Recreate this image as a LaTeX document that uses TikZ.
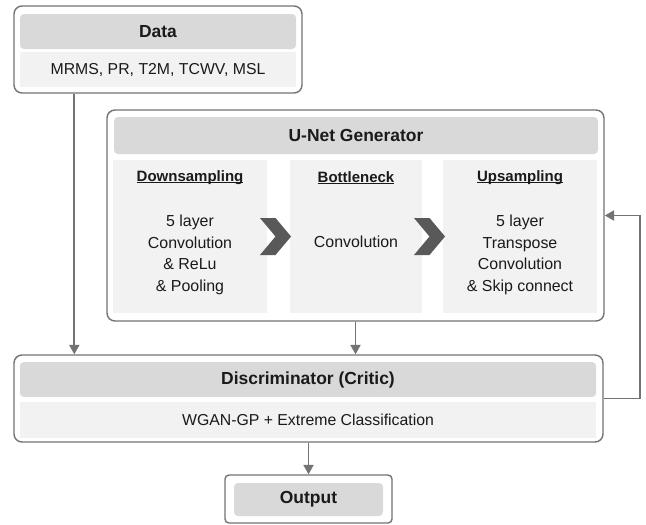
\documentclass[tikz,border=0pt]{standalone}
\usepackage{fontspec}
\setmainfont{Liberation Sans}
\usetikzlibrary{arrows.meta, positioning, shapes.symbols, calc}

\definecolor{edge}{HTML}{737373}
\definecolor{headfill}{HTML}{D9D9D9}
\definecolor{subfill}{HTML}{F2F2F2}
\definecolor{chevfill}{HTML}{595959}
\definecolor{txt}{HTML}{1A1A1A}

\newcommand{\undl}[1]{\setbox0\hbox{#1}\rlap{\rule[-1.5pt]{\wd0}{0.8pt}}\box0}

\tikzstyle{box} = [draw=edge, line width=1.2pt, rounded corners=0.24cm, fill=white, inner sep=0pt]
\tikzstyle{head} = [fill=headfill, rounded corners=0.12cm, inner sep=0pt, text=txt, font=\fontsize{14.9}{17}\selectfont\bfseries]
\tikzstyle{sub} = [fill=subfill, inner sep=0pt, text=txt, font=\fontsize{13.5}{16}\selectfont]
\tikzstyle{col} = [fill=subfill, inner sep=0pt, minimum height=4.59cm]
\tikzstyle{coltitle} = [text=txt, font=\fontsize{12.8}{15}\selectfont\bfseries]
\tikzstyle{colbody} = [align=center, text=txt, font=\fontsize{13.6}{18.3}\selectfont]
\tikzstyle{chev} = [signal, signal to=east, signal from=west, signal pointer angle=100, fill=chevfill, minimum width=0.81cm, minimum height=1.11cm, inner sep=0pt]
\tikzstyle{flow} = [draw=edge, line width=1.6pt, -{Triangle[length=8pt, width=8.5pt]}]

\begin{document}
\begin{tikzpicture}
	\useasboundingbox (0,0) rectangle (19.38,-15.72);
	
	% ====== Bloc Data ======
	\node[box, minimum width=8.64cm, minimum height=2.61cm] (data) at (4.74,-1.485) {};
	\node[head, minimum width=8.28cm, minimum height=1.05cm] (datahead) at (4.74,-0.945) {Data};
	\node[sub, minimum width=8.28cm, minimum height=1.05cm] (datasub) at (4.74,-2.085) {MRMS, PR, T2M, TCWV, MSL};
	
	% ====== Bloc U-Net ======
	\node[box, minimum width=14.91cm, minimum height=6.33cm] (unet) at (10.665,-6.465) {};
	\node[head, minimum width=14.52cm, minimum height=1.11cm] (unethead) at (10.68,-4.065) {U-Net Generator};
	
	\node[col, minimum width=4.62cm] (down) at (5.7,-7.095) {};
	\node[col, minimum width=3.96cm] (bott) at (10.68,-7.095) {};
	\node[col, minimum width=4.62cm] (up) at (15.6,-7.095) {};
	
	\node[coltitle] (downtitle) at ($(down.north)+(0,-0.54)$) {\undl{Downsampling}};
	\node[coltitle] (botttitle) at ($(bott.north)+(0,-0.54)$) {\undl{Bottleneck}};
	\node[coltitle] (uptitle) at ($(up.north)+(0,-0.54)$) {\undl{Upsampling}};
	
	\node[colbody] (downbody) at ($(down.north)+(0,-2.85)$) {5 layer\\Convolution\\\& ReLu\\\& Pooling};
	\node[colbody] (bottbody) at ($(bott.north)+(0,-2.46)$) {Convolution};
	\node[colbody] (upbody) at ($(up.north)+(0,-2.85)$) {5 layer\\Transpose\\Convolution\\\& Skip connect};
	
	% Chevrons
	\node[chev, xshift=-0.09cm] (chev1) at ($(down.east)!0.5!(bott.west)$) {};
	\node[chev, xshift=-0.09cm] (chev2) at ($(bott.east)!0.5!(up.west)$) {};
	
	% ====== Bloc Discriminator ======
	\node[box, minimum width=17.67cm, minimum height=2.61cm] (disc) at (9.255,-11.955) {};
	\node[head, minimum width=17.28cm, minimum height=1.05cm] (dischead) at (9.24,-11.385) {Discriminator (Critic)};
	\node[sub, minimum width=17.28cm, minimum height=1.08cm] (discsub) at (9.24,-12.6) {WGAN-GP + Extreme Classification};
	
	% ====== Bloc Output ======
	\node[box, rounded corners=0.12cm, minimum width=5.01cm, minimum height=1.44cm] (out) at (9.255,-14.97) {};
	\node[head, minimum width=4.47cm, minimum height=0.99cm] (outhead) at (9.255,-14.985) {Output};
	
	% ====== Liaisons ======
	\draw[flow] ($(data.south west)+(1.83,0)$) coordinate (dsrc) -- (dsrc |- disc.north);
	\draw[flow] (unet.south) -- (unet.south |- disc.north);
	\draw[flow] (disc.south) -- (out.north);
	\draw[flow] (disc.east) -- ++(1.08,0) |- (unet.east);
	
\end{tikzpicture}
\end{document}
